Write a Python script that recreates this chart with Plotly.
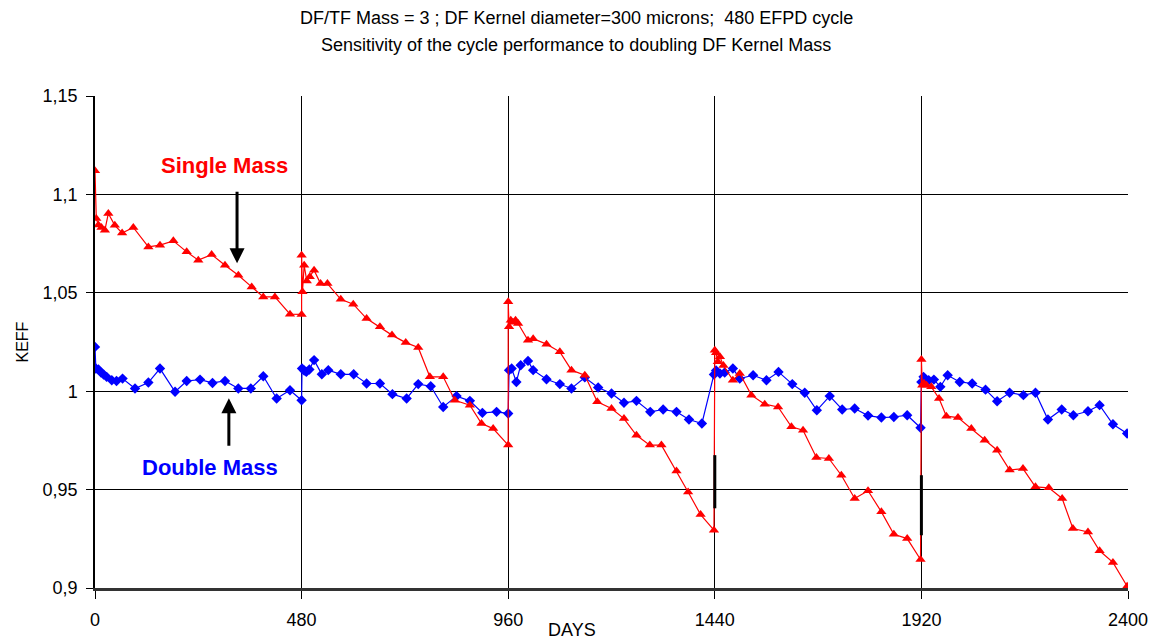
import plotly.graph_objects as go

# ---- data ----
single_days = [0, 3, 8, 15, 23, 31, 46, 63, 89, 124, 151, 182, 213, 240, 271, 302, 333, 364, 391, 418, 453, 480,
               480, 482, 486, 492, 499, 509, 524, 540, 571, 600, 631, 662, 690, 722, 751, 778, 809, 836, 871, 898, 925, 960,
               960, 962, 966, 971, 977, 983, 1006, 1018, 1049, 1080, 1107, 1138, 1167, 1200, 1229, 1258, 1289, 1316, 1351, 1378, 1407, 1438,
               1440, 1443, 1447, 1452, 1460, 1482, 1498, 1525, 1556, 1587, 1618, 1645, 1676, 1705, 1734, 1765, 1796, 1827, 1856, 1887, 1918,
               1920, 1922, 1926, 1932, 1943, 1961, 1978, 2005, 2036, 2067, 2096, 2125, 2156, 2185, 2216, 2247, 2272, 2307, 2334, 2365, 2398]
single_keff = [1.1120, 1.0877, 1.0845, 1.0832, 1.0818, 1.0903, 1.0843, 1.0804, 1.0832, 1.0733, 1.0742, 1.0764, 1.0708, 1.0666, 1.0694, 1.0640, 1.0589, 1.0530, 1.0479, 1.0479, 1.0391, 1.0390,
               1.0691, 1.0505, 1.0640, 1.0560, 1.0581, 1.0615, 1.0547, 1.0547, 1.0467, 1.0442, 1.0369, 1.0327, 1.0285, 1.0247, 1.0222, 1.0073, 1.0073, 0.9954, 0.9929, 0.9836, 0.9810, 0.9726,
               1.0454, 1.0327, 1.0361, 1.0350, 1.0361, 1.0344, 1.0259, 1.0267, 1.0239, 1.0200, 1.0107, 1.0081, 0.9946, 0.9912, 0.9861, 0.9776, 0.9726, 0.9726, 0.9595, 0.9488, 0.9373, 0.9294,
               1.0208, 1.0195, 1.0150, 1.0175, 1.0130, 1.0056, 1.0090, 0.9980, 0.9934, 0.9920, 0.9819, 0.9802, 0.9663, 0.9658, 0.9573, 0.9455, 0.9494, 0.9387, 0.9273, 0.9251, 0.9145,
               1.0161, 1.0030, 1.0040, 1.0030, 1.0022, 0.9963, 0.9873, 0.9866, 0.9810, 0.9751, 0.9700, 0.9599, 0.9607, 0.9514, 0.9509, 0.9455, 0.9302, 0.9285, 0.9189, 0.9130, 0.9009]

double_days = [0, 2, 8, 14, 20, 27, 39, 50, 64, 93, 124, 151, 186, 213, 244, 273, 302, 333, 362, 391, 422, 453, 480,
               481, 486, 491, 498, 509, 527, 542, 571, 601, 631, 662, 691, 724, 751, 780, 809, 840, 871, 900, 933, 960,
               962, 968, 979, 989, 1006, 1018, 1049, 1080, 1107, 1138, 1169, 1200, 1229, 1258, 1290, 1320, 1351, 1380, 1410,
               1438, 1443, 1452, 1463, 1482, 1498, 1529, 1560, 1588, 1620, 1649, 1677, 1707, 1736, 1765, 1796, 1827, 1856, 1887, 1918,
               1920, 1925, 1937, 1949, 1964, 1981, 2009, 2038, 2069, 2096, 2125, 2157, 2185, 2214, 2246, 2273, 2307, 2334, 2365, 2398]
double_keff = [1.0225, 1.0115, 1.0110, 1.0095, 1.0085, 1.0073, 1.0056, 1.0052, 1.0064, 1.0014, 1.0044, 1.0115, 0.9997, 1.0052, 1.0059, 1.0042, 1.0052, 1.0014, 1.0014, 1.0076, 0.9963, 1.0005, 0.9954,
               1.0115, 1.0105, 1.0098, 1.0110, 1.0158, 1.0086, 1.0107, 1.0086, 1.0086, 1.0039, 1.0039, 0.9985, 0.9963, 1.0036, 1.0025, 0.9920, 0.9975, 0.9951, 0.9890, 0.9895, 0.9887,
               1.0107, 1.0115, 1.0047, 1.0132, 1.0154, 1.0107, 1.0061, 1.0036, 1.0014, 1.0070, 1.0019, 0.9988, 0.9941, 0.9951, 0.9895, 0.9907, 0.9895, 0.9856, 0.9836,
               1.0085, 1.0105, 1.0090, 1.0095, 1.0115, 1.0064, 1.0081, 1.0056, 1.0098, 1.0036, 0.9992, 0.9903, 0.9975, 0.9907, 0.9912, 0.9876, 0.9866, 0.9869, 0.9878, 0.9814,
               1.0047, 1.0073, 1.0056, 1.0059, 1.0022, 1.0081, 1.0047, 1.0039, 1.0008, 0.9949, 0.9992, 0.9980, 0.9992, 0.9856, 0.9907, 0.9878, 0.9898, 0.9929, 0.9832, 0.9785]

bar_days = [1440, 1440, None, 1920, 1920]
bar_keff = [0.9675, 0.9405, None, 0.9573, 0.9268]

x_ticks = [0, 480, 960, 1440, 1920, 2400]
y_ticks = [0.9, 0.95, 1.0, 1.05, 1.1, 1.15]
y_labels = ["0,9", "0,95", "1", "1,05", "1,1", "1,15"]

title_lines = ["DF/TF Mass = 3 ; DF Kernel diameter=300 microns;  480 EFPD cycle",
               "Sensitivity of the cycle performance to doubling DF Kernel Mass"]

FONT = "Liberation Sans Narrow, Arial Narrow, Liberation Sans, Arial, sans-serif"
BOLD = "Liberation Sans, Arial, sans-serif"

fig = go.Figure()
fig.add_trace(go.Scatter(x=double_days, y=double_keff, mode="lines+markers", name="Double Mass",
                         line=dict(color="#0000FF", width=1.2),
                         marker=dict(symbol="diamond", size=8, color="#0000FF")))
fig.add_trace(go.Scatter(x=single_days, y=single_keff, mode="lines+markers", name="Single Mass",
                         line=dict(color="#FF0000", width=1.2),
                         marker=dict(symbol="triangle-up", size=9, color="#FF0000")))
fig.add_trace(go.Scatter(x=bar_days, y=bar_keff, mode="lines", line=dict(color="black", width=3),
                         showlegend=False, hoverinfo="skip"))

fig.update_layout(
    width=1154, height=639,
    margin=dict(l=95, r=26, t=96, b=51, autoexpand=False),
    paper_bgcolor="white", plot_bgcolor="white",
    showlegend=False,
    font=dict(family=FONT, color="black", size=15),
    xaxis=dict(range=[0, 2400], tickvals=x_ticks, ticktext=[str(v) for v in x_ticks],
               showgrid=True, gridcolor="black", gridwidth=1,
               showline=True, linecolor="#333333", linewidth=3,
               ticks="outside", ticklen=8, tickcolor="black", ticklabelstandoff=5,
               tickfont=dict(size=18, family=FONT), zeroline=False, automargin=False),
    yaxis=dict(range=[0.9, 1.15], tickvals=y_ticks, ticktext=y_labels,
               showgrid=True, gridcolor="black", gridwidth=1,
               showline=True, linecolor="black", linewidth=1.5,
               ticks="outside", ticklen=7, tickcolor="black", ticklabelstandoff=5,
               tickfont=dict(size=18, family=FONT), zeroline=False, automargin=False),
)

fig.add_annotation(text=title_lines[0], xref="paper", yref="paper", x=0.466, y=1.0,
                   yshift=90, showarrow=False, font=dict(size=18, family=FONT))
fig.add_annotation(text=title_lines[1], xref="paper", yref="paper", x=0.466, y=1.0,
                   yshift=63, showarrow=False, font=dict(size=18, family=FONT))
fig.add_annotation(text="DAYS", xref="paper", yref="paper", x=0.462, y=0, yshift=-54,
                   showarrow=False, font=dict(size=18, family=FONT))
fig.add_annotation(text="KEFF", xref="paper", yref="paper", x=0, xshift=-84, y=0.5,
                   textangle=-90, showarrow=False, font=dict(size=16, family=FONT))

fig.add_annotation(text="<b>Single Mass</b>", x=302, y=1.1148, showarrow=False,
                   font=dict(size=22, color="#FF0000", family=BOLD))
fig.add_annotation(text="<b>Double Mass</b>", x=267, y=0.9614, showarrow=False,
                   font=dict(size=22, color="#0000FF", family=BOLD))
fig.add_annotation(text="", x=330, y=1.065, ax=0, ay=-73, showarrow=True,
                   arrowhead=2, arrowsize=1, arrowwidth=3, arrowcolor="black")
fig.add_annotation(text="", x=311, y=0.9964, ax=0, ay=49, showarrow=True,
                   arrowhead=2, arrowsize=1, arrowwidth=3, arrowcolor="black")

fig.write_html("out.html", config={"displayModeBar": False},
               post_script="document.body.style.margin='0';")
